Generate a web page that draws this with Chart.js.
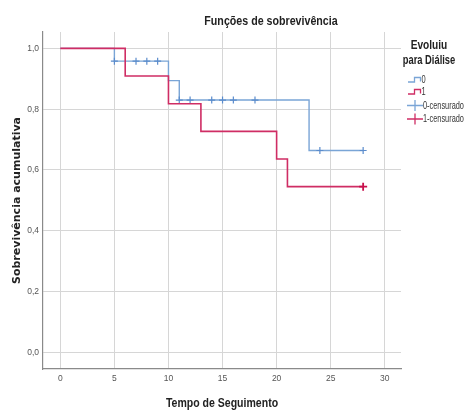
<!DOCTYPE html>
<html>
<head>
<meta charset="utf-8">
<script src="https://cdn.jsdelivr.net/npm/chart.js@4/dist/chart.umd.min.js"></script>
<style>
  html, body { margin: 0; padding: 0; background: #fff; }
  #wrap { width: 465px; height: 410px; }
</style>
</head>
<body>
<div id="wrap"><canvas id="kmChart" width="465" height="410"></canvas></div>
<script>
// survival steps (time, cumulative survival)
const group0Times = [0, 5, 10, 11, 23, 28];
const group0Surv = [1.0, 0.958, 0.894, 0.830, 0.664, 0.664];
const group1Times = [0, 6, 10, 13, 20, 21, 28];
const group1Surv = [1.0, 0.909, 0.818, 0.727, 0.636, 0.545, 0.545];

// censored cases
const cens0Times = [5, 7, 8, 9, 11, 12, 14, 15, 16, 18, 24, 28];
const cens0Surv = [0.958, 0.958, 0.958, 0.958, 0.830, 0.830, 0.830, 0.830, 0.830, 0.830, 0.664, 0.664];
const cens1Times = [28];
const cens1Surv = [0.545];

const xTicks = [0, 5, 10, 15, 20, 25, 30];
const yTicks = [0, 0.2, 0.4, 0.6, 0.8, 1.0];

const chartTitle = 'Funções de sobrevivência';
const xTitle = 'Tempo de Seguimento';
const yTitle = 'Sobrevivência acumulativa';
const legendTitle = ['Evoluiu', 'para Diálise'];
const legendLabels = ['0', '1', '0-censurado', '1-censurado'];

const BLUE = '#7aa5d6';
const BLUE_DARK = '#5b8ccc';
const RED = '#cf2d64';
const SANS = "'Liberation Sans', Arial, sans-serif";

const toPoints = (xs, ys) => xs.map((x, i) => ({ x: x, y: ys[i] }));
const comma = v => v.toFixed(1).replace('.', ',');

// the original uses a condensed face, so squeeze the text horizontally
function narrowText(ctx, text, x, y, font, sx, align) {
  ctx.save();
  ctx.font = font;
  ctx.textAlign = align;
  ctx.textBaseline = 'middle';
  ctx.translate(x, y);
  ctx.scale(sx, 1);
  ctx.fillText(text, 0, 0);
  ctx.restore();
}

// title, x title and legend drawn on the canvas after the chart
const extrasPlugin = {
  id: 'extras',
  afterDraw(chart) {
    const ctx = chart.ctx;
    const area = chart.chartArea;
    ctx.save();
    ctx.fillStyle = '#222';
    narrowText(ctx, chartTitle, 271, 21, 'bold 13px ' + SANS, 0.82, 'center');
    narrowText(ctx, xTitle, (area.left + area.right) / 2, 403, 'bold 13.5px ' + SANS, 0.78, 'center');

    narrowText(ctx, legendTitle[0], 429, 45, 'bold 13px ' + SANS, 0.78, 'center');
    narrowText(ctx, legendTitle[1], 429, 60, 'bold 13px ' + SANS, 0.72, 'center');

    const rows = [80, 92, 105.5, 119];
    ctx.lineWidth = 1.3;
    // step icons
    [BLUE, RED].forEach((c, i) => {
      const y = rows[i];
      ctx.strokeStyle = c;
      ctx.beginPath();
      ctx.moveTo(408, y + 2);
      ctx.lineTo(414.5, y + 2);
      ctx.lineTo(414.5, y - 2.5);
      ctx.lineTo(420.5, y - 2.5);
      ctx.lineTo(420.5, y + 1.5);
      ctx.stroke();
    });
    // cross icons
    [BLUE, RED].forEach((c, i) => {
      const y = rows[i + 2];
      ctx.strokeStyle = c;
      ctx.beginPath();
      ctx.moveTo(407, y);
      ctx.lineTo(423, y);
      ctx.moveTo(415, y - 5.5);
      ctx.lineTo(415, y + 5.5);
      ctx.stroke();
    });
    ctx.fillStyle = '#333';
    const f = '11px ' + SANS;
    narrowText(ctx, legendLabels[0], 421.5, rows[0], f, 0.68, 'left');
    narrowText(ctx, legendLabels[1], 421.5, rows[1], f, 0.68, 'left');
    narrowText(ctx, legendLabels[2], 423, rows[2], f, 0.67, 'left');
    narrowText(ctx, legendLabels[3], 423, rows[3], f, 0.67, 'left');
    ctx.restore();
  }
};

new Chart(document.getElementById('kmChart'), {
  type: 'line',
  data: {
    datasets: [
      {
        label: legendLabels[3],
        type: 'scatter',
        data: toPoints(cens1Times, cens1Surv),
        pointStyle: 'cross',
        pointRadius: 4,
        pointBorderWidth: 1.8,
        borderColor: '#c8104c',
        order: 0
      },
      {
        label: legendLabels[1],
        data: toPoints(group1Times, group1Surv),
        stepped: true,
        borderColor: RED,
        borderWidth: 1.6,
        pointRadius: 0,
        fill: false,
        order: 1
      },
      {
        label: legendLabels[2],
        type: 'scatter',
        data: toPoints(cens0Times, cens0Surv),
        pointStyle: 'cross',
        pointRadius: 3.5,
        pointBorderWidth: 1.2,
        borderColor: BLUE_DARK,
        order: 2
      },
      {
        label: legendLabels[0],
        data: toPoints(group0Times, group0Surv),
        stepped: true,
        borderColor: BLUE,
        borderWidth: 1.4,
        pointRadius: 0,
        fill: false,
        order: 3
      }
    ]
  },
  options: {
    responsive: false,
    animation: false,
    events: [],
    layout: { padding: { top: 32, right: 64, left: 0, bottom: 0 } },
    plugins: {
      legend: { display: false },
      title: { display: false },
      tooltip: { enabled: false }
    },
    scales: {
      x: {
        type: 'linear',
        min: -1.6,
        max: 31.5,
        afterFit: s => { s.height = 41; },
        afterBuildTicks: s => { s.ticks = xTicks.map(v => ({ value: v })); },
        ticks: {
          padding: 5,
          color: '#555',
          font: { family: SANS, size: 8.5 },
          callback: v => String(v)
        },
        grid: { color: '#d6d6d6', lineWidth: 1, drawTicks: false },
        border: { color: '#8a8a8a', width: 1.2 },
        title: { display: false }
      },
      y: {
        type: 'linear',
        min: -0.055,
        max: 1.054,
        afterFit: s => { s.width = 43; },
        afterBuildTicks: s => { s.ticks = yTicks.map(v => ({ value: v })); },
        ticks: {
          padding: 4,
          color: '#555',
          font: { family: SANS, size: 8.5 },
          callback: v => comma(v)
        },
        grid: { color: '#d6d6d6', lineWidth: 1, drawTicks: false },
        border: { color: '#8a8a8a', width: 1.2 },
        title: {
          display: true,
          text: yTitle,
          color: '#222',
          font: { family: "'DejaVu Sans', sans-serif", size: 11, weight: 'bold' },
          padding: { top: 11, bottom: 0 }
        }
      }
    }
  },
  plugins: [extrasPlugin]
});
</script>
</body>
</html>
